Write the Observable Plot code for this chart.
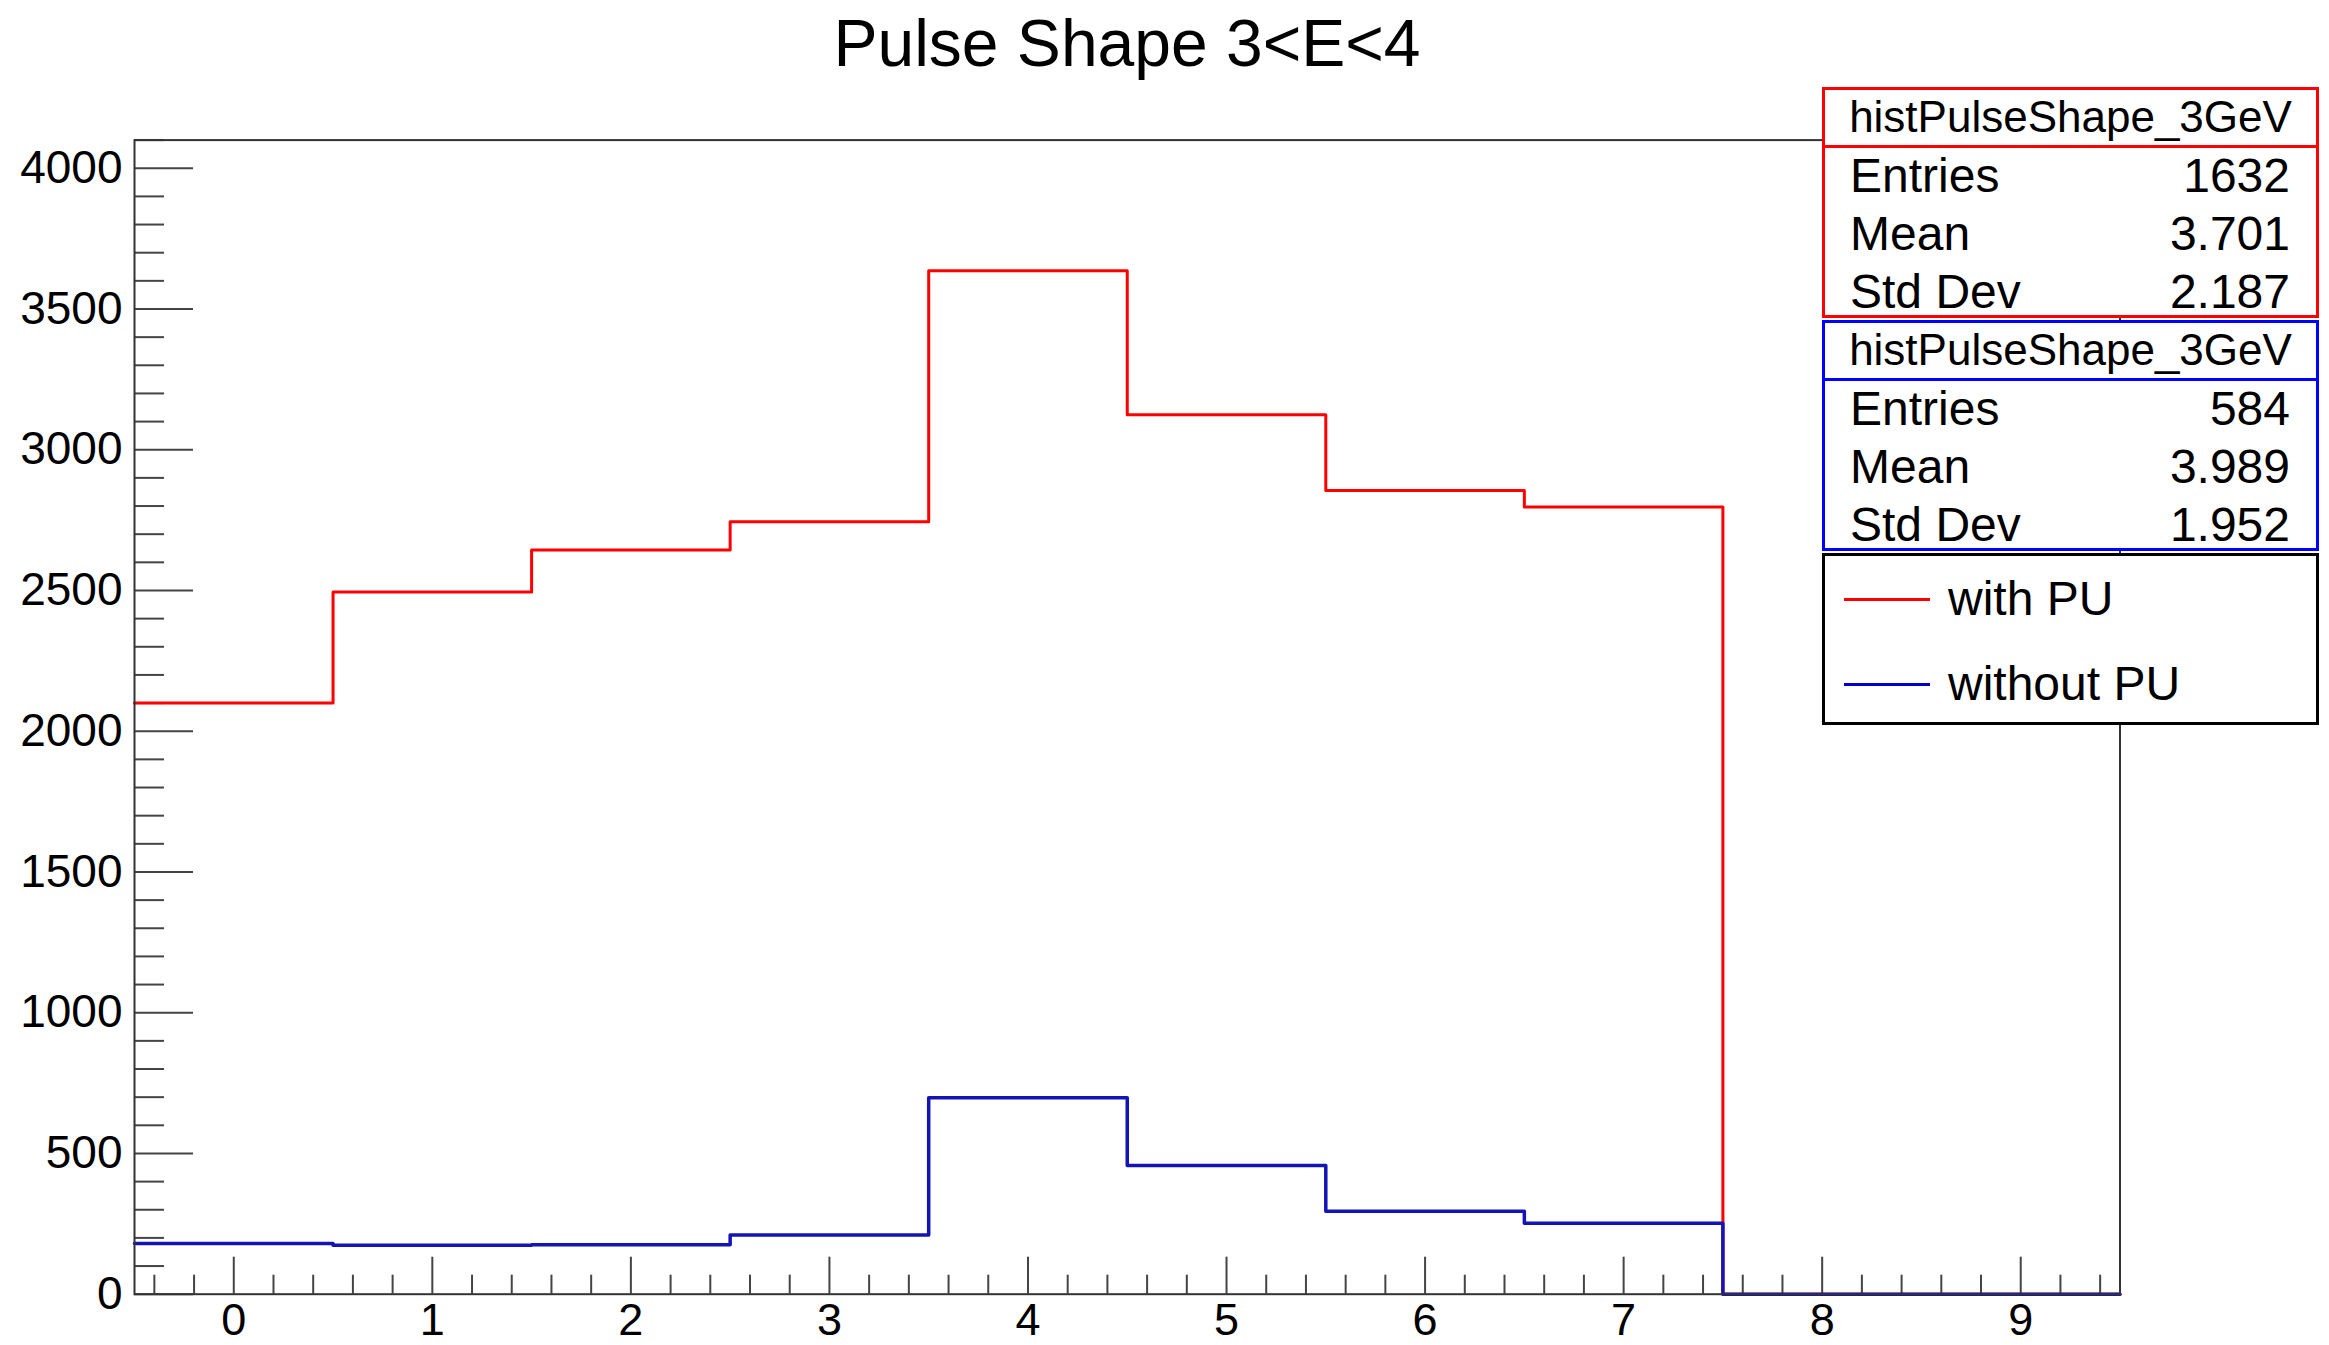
<!DOCTYPE html>
<html>
<head>
<meta charset="utf-8">
<script src="https://cdn.jsdelivr.net/npm/d3@7"></script>
<script src="https://cdn.jsdelivr.net/npm/@observablehq/plot@0.6"></script>
<style>
  html, body { margin: 0; padding: 0; background: #fff; }
  body { font-family: "Liberation Sans", Arial, Helvetica, sans-serif; }
  #wrap { position: relative; width: 2329px; height: 1345px; overflow: hidden; }
  #title { height: 86px; line-height: 86px; margin-left: 134px; width: 1986px; text-align: center; font-size: 66px; color: #000; }
  #gap { height: 4px; }
  .box { position: absolute; box-sizing: border-box; background: #fff; }
  .hdr { position: absolute; left: 0; right: 0; text-align: center; font-size: 44px; line-height: 58px; height: 58px; }
  .row { position: absolute; left: 25px; right: 26px; font-size: 48px; line-height: 58px; height: 58px; display: flex; justify-content: space-between; }
  .sep { position: absolute; left: 0; right: 0; height: 0; }
  .leg { position: absolute; left: 0; right: 0; height: 70px; font-size: 48px; line-height: 70px; }
  .leg .ln { position: absolute; left: 19px; width: 86px; top: 34px; height: 0; }
  .leg .tx { position: absolute; left: 123px; }
</style>
</head>
<body>
<div id="wrap">
  <div id="title"></div>
  <div id="gap"></div>
  <div id="chart"></div>
</div>
<script>
// ---- data ----
const titleText = "Pulse Shape 3<E<4";
const bins = [0, 1, 2, 3, 4, 5, 6, 7, 8, 9];
const withPU = [2100, 2495, 2644, 2744, 3636, 3124, 2855, 2797, 0, 0];
const withoutPU = [180, 174, 176, 210, 698, 457, 295, 252, 0, 0];
const xTicks = [0, 1, 2, 3, 4, 5, 6, 7, 8, 9];
const yTicks = [0, 500, 1000, 1500, 2000, 2500, 3000, 3500, 4000];
const histName = "histPulseShape_3GeV";
const statLabels = ["Entries", "Mean", "Std Dev"];
const statsWithPU = ["1632", "3.701", "2.187"];
const statsWithoutPU = ["584", "3.989", "1.952"];
const legendLabels = ["with PU", "without PU"];
const redColor = "#ff0000";
const blueColor = "#1414b4";
const boxBlue = "#0000ff";

// ---- build step outline from bin centres (histogram edges at +-0.5) ----
function stepPoints(values) {
  const pts = bins.map((b, i) => ({x: b - 0.5, y: values[i]}));
  pts.push({x: bins[bins.length - 1] + 0.5, y: values[values.length - 1]});
  return pts;
}

const xMinor = d3.range(-0.4, 9.5, 0.2).map(v => Math.round(v * 10) / 10).filter(v => !xTicks.includes(v));
const yMinor = d3.range(0, 4101, 100).filter(v => !yTicks.includes(v));

const tickColor = "#444";

const chart = Plot.plot({
  width: 2329,
  height: 1255,
  marginLeft: 134,
  marginRight: 209.5,
  marginTop: 49.6,
  marginBottom: 51.3,
  style: {fontFamily: "'Liberation Sans', Arial, Helvetica, sans-serif", background: "white", color: "black"},
  x: {domain: [-0.5, 9.5], axis: null},
  y: {domain: [0, 4100], axis: null},
  marks: [
    // minor & major ticks pointing inward
    Plot.axisY(yMinor, {anchor: "left", tickSize: -30, fill: "none", stroke: tickColor, strokeWidth: 2, label: null}),
    Plot.axisY(yTicks, {anchor: "left", tickSize: -59, fill: "none", stroke: tickColor, strokeWidth: 2, label: null}),
    Plot.axisY(yTicks, {anchor: "left", tickSize: 0, tickPadding: 12, fontSize: 46, fill: "black", label: null, tickFormat: d => String(d)}),
    Plot.axisX(xMinor, {anchor: "bottom", tickSize: -19, fill: "none", stroke: tickColor, strokeWidth: 2, label: null}),
    Plot.axisX(xTicks, {anchor: "bottom", tickSize: -37, fill: "none", stroke: tickColor, strokeWidth: 2, label: null}),
    Plot.axisX(xTicks, {anchor: "bottom", tickSize: 0, tickPadding: 9, fontSize: 45, fill: "black", label: null, tickFormat: d => String(d)}),
    Plot.line(stepPoints(withPU), {x: "x", y: "y", curve: "step-after", stroke: redColor, strokeWidth: 3}),
    Plot.line(stepPoints(withoutPU), {x: "x", y: "y", curve: "step-after", stroke: blueColor, strokeWidth: 3.5}),
    Plot.frame({stroke: "#333", strokeWidth: 2})
  ]
});
document.getElementById("chart").appendChild(chart);
document.getElementById("title").textContent = titleText;

// ---- stats boxes & legend (HTML overlay) ----
const wrap = document.getElementById("wrap");
function statBox(top, color, values) {
  const box = document.createElement("div");
  box.className = "box";
  Object.assign(box.style, {left: "1822px", top: top + "px", width: "497px", height: "231px", border: `3px solid ${color}`});
  const hdr = document.createElement("div");
  hdr.className = "hdr";
  hdr.style.top = "-2px";
  hdr.textContent = histName;
  box.appendChild(hdr);
  const sep = document.createElement("div");
  sep.className = "sep";
  sep.style.top = "55px";
  sep.style.borderTop = `3px solid ${color}`;
  box.appendChild(sep);
  statLabels.forEach((lab, i) => {
    const row = document.createElement("div");
    row.className = "row";
    row.style.top = (57 + 58 * i) + "px";
    const a = document.createElement("span"); a.textContent = lab;
    const b = document.createElement("span"); b.textContent = values[i];
    row.appendChild(a); row.appendChild(b);
    box.appendChild(row);
  });
  wrap.appendChild(box);
}
statBox(87, redColor, statsWithPU);
statBox(320, boxBlue, statsWithoutPU);

const legend = document.createElement("div");
legend.className = "box";
Object.assign(legend.style, {left: "1822px", top: "553px", width: "497px", height: "172px", border: "3px solid #000"});
[redColor, "#0000cc"].forEach((c, i) => {
  const item = document.createElement("div");
  item.className = "leg";
  item.style.top = (8 + 85 * i) + "px";
  const ln = document.createElement("div");
  ln.className = "ln";
  ln.style.borderTop = `3px solid ${c}`;
  const tx = document.createElement("span");
  tx.className = "tx";
  tx.textContent = legendLabels[i];
  item.appendChild(ln); item.appendChild(tx);
  legend.appendChild(item);
});
wrap.appendChild(legend);
</script>
</body>
</html>
